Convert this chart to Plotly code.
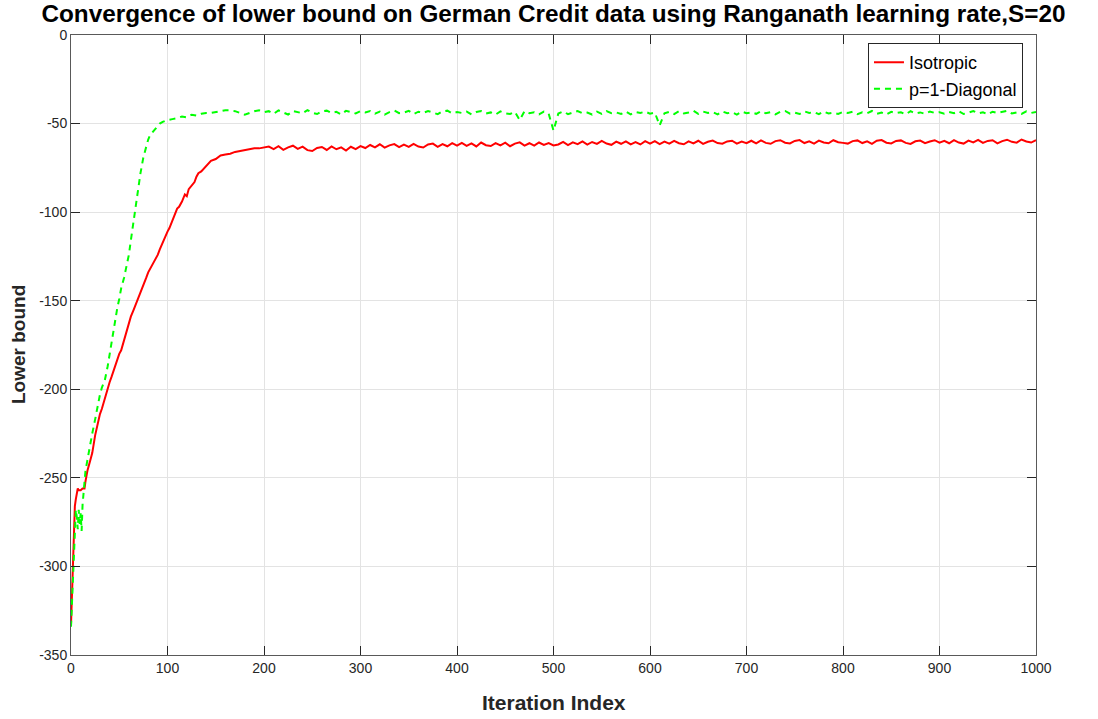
import plotly.graph_objects as go

# ---------------- data ----------------
iso_x = [0, 1, 2, 3, 4, 5, 6, 7, 8, 10, 12, 14, 15, 17, 20, 22, 25, 28, 30, 32,
         35, 38, 40, 42, 45, 48, 50, 52, 55, 58, 60, 62, 65, 68, 70, 72, 75, 78, 80, 82,
         85, 88, 90, 92, 95, 98, 100, 102, 105, 108, 110, 112, 115, 118, 120, 122, 125, 128, 130, 132,
         135, 138, 140, 145, 150, 155, 160, 165, 170, 175, 180, 185, 190, 195, 200] + list(range(205, 1001, 5))

iso_y = [-333, -318, -295, -278, -266, -262, -258, -256, -257, -257, -256, -256, -252, -246, -240, -236, -226, -218, -214, -211,
         -205, -199, -196, -193, -188, -183, -180, -178, -172, -166, -162, -159, -155, -151, -148, -146, -141, -137, -134, -132,
         -129, -126, -124, -121, -117, -113, -111, -109, -105, -101, -98, -97, -94, -90, -91, -87, -85, -83, -80, -78,
         -77, -75, -74, -71, -70, -68, -67.5, -67, -66, -65.5, -65, -64.5, -64, -64, -63.5,
         # 205-300
         -63.0, -64.4, -62.8, -64.8, -63.4, -62.5, -64.3, -63.0, -65.0, -65.5, -63.8, -63.2, -64.9, -62.9, -64.5, -63.4, -65.2, -63.1, -64.4, -62.7,
         # 305-400
         -63.8, -62.1, -63.4, -61.7, -63.6, -62.3, -61.6, -63.3, -61.9, -63.2, -61.5, -63.0, -63.5, -61.8, -61.3, -63.1, -61.6, -62.8, -61.1, -62.5,
         # 405-500
         -60.9, -62.6, -61.2, -62.9, -60.7, -62.2, -62.7, -61.0, -62.3, -60.8, -62.8, -61.3, -60.6, -62.4, -61.1, -62.5, -60.7, -62.1, -61.0, -62.3,
         # 505-600
         -61.8, -60.3, -62.1, -60.6, -61.6, -60.1, -61.9, -60.4, -61.5, -59.8, -61.3, -62.0, -60.2, -61.4, -60.0, -61.7, -60.5, -61.8, -59.9, -61.3,
         # 605-700
         -59.9, -61.6, -60.2, -61.3, -59.8, -61.1, -61.7, -60.0, -61.2, -59.7, -61.5, -60.3, -59.6, -61.0, -61.4, -60.1, -59.7, -61.3, -60.2, -61.1,
         # 705-800
         -59.7, -61.2, -59.5, -60.9, -61.4, -59.9, -59.4, -60.8, -61.2, -59.8, -59.3, -61.0, -60.0, -61.3, -59.6, -60.7, -61.1, -59.4, -60.5, -60.9,
         # 805-900
         -61.3, -59.9, -59.5, -61.0, -60.0, -61.4, -59.7, -59.3, -60.8, -61.2, -59.8, -59.5, -60.9, -61.5, -60.0, -59.6, -61.1, -60.1, -59.4, -60.8,
         # 905-1000
         -59.7, -61.1, -59.3, -60.7, -61.3, -59.6, -60.6, -59.2, -60.9, -59.8, -59.4, -61.2, -59.9, -59.1, -60.3, -60.8, -59.0, -60.1, -60.7, -59.3]

diag_x = [0, 1, 2, 3, 4, 5, 6, 7, 8, 9, 10, 11, 12, 13, 14, 15, 17, 20, 22, 25,
          28, 30, 32, 35, 38, 40, 42, 45, 48, 50, 52, 55, 58, 60, 62, 65, 68, 70, 72, 75,
          78, 80, 82, 85, 88, 90, 92, 95, 100, 105, 110, 115, 120, 125, 130, 135, 140, 145, 150, 155,
          160, 165, 170, 175, 180, 185, 190, 195, 200] + list(range(205, 1001, 5))

diag_y = [-334, -320, -300, -290, -275, -268, -272, -279, -268, -276, -270, -280, -265, -258, -250, -246, -240, -230, -225, -217,
          -208, -203, -199, -195, -187, -180, -174, -165, -154, -149, -143, -137, -130, -124, -116, -104, -91, -85, -78, -69,
          -62, -59, -56.5, -54.5, -52.5, -51, -50, -49, -48, -47.5, -47, -46, -46.5, -45, -45.5, -44.5, -44, -44, -43.5, -43,
          -42.5, -42.5, -43, -44, -45, -44, -43, -42.5, -43.5,
          # 205-300
          -43.0, -44.5, -42.6, -43.8, -44.9, -42.9, -43.5, -44.2, -42.4, -43.9, -44.6, -43.1, -42.7, -44.0, -43.4, -44.8, -42.8, -43.6, -44.3, -43.0,
          # 305-400
          -43.7, -42.9, -44.4, -43.2, -44.9, -43.5, -42.6, -44.1, -43.8, -42.8, -44.6, -43.3, -44.0, -42.9, -43.6, -44.7, -43.1, -42.7, -44.2, -43.5,
          # 405-500
          -44.0, -43.2, -44.8, -43.5, -42.9, -44.3, -43.7, -44.9, -43.1, -44.2, -44.6, -43.4, -48.0, -43.0, -44.1, -43.6, -44.8, -43.2, -44.4, -54.0,
          # 505-600
          -44.3, -43.1, -44.7, -43.6, -42.9, -44.2, -43.8, -44.9, -43.3, -44.5, -43.0, -44.1, -43.7, -44.6, -43.2, -44.8, -43.5, -44.0, -43.3, -44.4,
          # 605-700
          -43.8, -51.0, -44.2, -43.4, -44.6, -43.0, -44.3, -43.7, -42.8, -44.5, -43.2, -44.0, -43.5, -44.8, -43.1, -44.2, -43.6, -44.9, -43.3, -44.1,
          # 705-800
          -43.7, -44.5, -43.0, -44.2, -43.6, -44.8, -43.3, -42.9, -44.4, -43.8, -44.6, -43.1, -44.0, -43.5, -44.7, -43.2, -44.3, -43.9, -44.6, -43.4,
          # 805-900
          -44.0, -43.3, -44.7, -43.6, -44.2, -42.9, -44.5, -43.8, -44.9, -43.4, -44.1, -43.6, -44.8, -43.0, -44.3, -43.7, -44.5, -43.2, -44.0, -43.6,
          # 905-1000
          -44.4, -43.5, -44.1, -43.0, -44.6, -43.8, -42.9, -44.2, -43.6, -44.8, -43.3, -44.0, -43.5, -42.8, -44.3, -43.7, -44.5, -43.1, -44.0, -43.4]

x_ticks = [0, 100, 200, 300, 400, 500, 600, 700, 800, 900, 1000]
y_ticks = [0, -50, -100, -150, -200, -250, -300, -350]

NARROW = "Liberation Sans Narrow, Arial Narrow, Liberation Sans, Arial, sans-serif"
REG = "Liberation Sans, Arial, sans-serif"

fig = go.Figure()
fig.add_trace(go.Scatter(x=iso_x, y=iso_y, mode="lines", name="Isotropic",
                         line=dict(color="#ff0000", width=2)))
fig.add_trace(go.Scatter(x=diag_x, y=diag_y, mode="lines", name="p=1-Diagonal",
                         line=dict(color="#00ff00", width=2, dash="6px,5px")))

axis_common = dict(showline=True, linecolor="#595959", linewidth=1, mirror="ticks",
                   ticks="inside", ticklen=9, tickcolor="#262626",
                   showgrid=True, gridcolor="#e3e3e3", gridwidth=1, zeroline=False,
                   tickfont=dict(family=REG, size=14, color="#262626"))

fig.update_layout(
    width=1098, height=719,
    margin=dict(l=71, r=62, t=35, b=64),
    paper_bgcolor="white", plot_bgcolor="white",
    title=dict(text="<b>Convergence of lower bound on German Credit data using Ranganath learning rate,S=20</b>",
               x=0.5, xanchor="center", xref="paper", y=0.981, yanchor="middle", yref="container",
               font=dict(family=NARROW, size=24.3, color="black")),
    xaxis=dict(range=[0, 1000], tickvals=x_ticks, ticktext=[str(v) for v in x_ticks], **axis_common),
    yaxis=dict(range=[-350, 0], tickvals=y_ticks, ticktext=[str(v) for v in y_ticks], **axis_common),
    legend=dict(x=0.9865, xanchor="right", y=0.987, yanchor="top",
                bgcolor="white", bordercolor="#262626", borderwidth=1,
                font=dict(family=NARROW, size=18, color="black"),
                itemwidth=30, tracegroupgap=0),
    showlegend=True,
)

fig.add_annotation(text="<b>Iteration Index</b>", xref="paper", yref="paper",
                   x=0.5, y=-0.076, xanchor="center", yanchor="middle", showarrow=False,
                   font=dict(family=NARROW, size=21, color="#262626"))
fig.add_annotation(text="<b>Lower bound</b>", xref="paper", yref="paper",
                   x=-0.0549, y=0.5, xanchor="center", yanchor="middle", showarrow=False,
                   textangle=-90, font=dict(family=REG, size=19, color="#262626"))

fig.write_html("out.html")
